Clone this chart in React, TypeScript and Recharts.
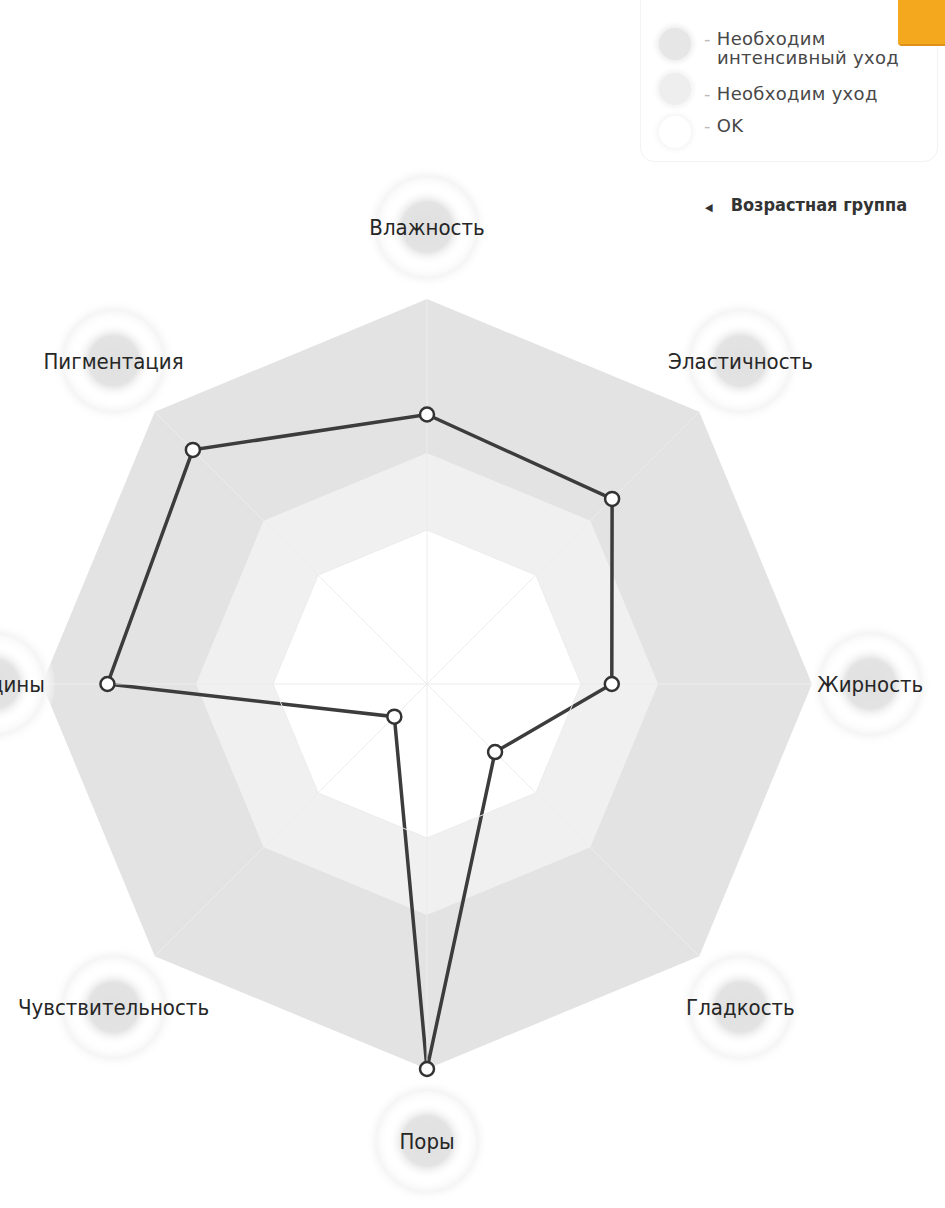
import { RadarChart, Radar, PolarGrid, PolarAngleAxis, PolarRadiusAxis } from 'recharts';

const categories = ['Влажность', 'Эластичность', 'Жирность', 'Гладкость', 'Поры', 'Чувствительность', 'Морщины', 'Пигментация'];
const scores = [70, 68, 48, 25, 100, 12, 83, 86];

// zone borders: intensive care / care / ok
const zoneLevels = [100, 60, 40];
const zoneNames = ['Необходим интенсивный уход', 'Необходим уход', 'OK'];
const ageGroupLabel = 'Возрастная группа';

const data = categories.map((name, i) => ({
  name,
  score: scores[i],
  intensive: zoneLevels[0],
  care: zoneLevels[1],
  ok: zoneLevels[2],
}));

const CX = 427;
const CY = 684;
const R = 385;
const labelFont = "'DejaVu Sans Condensed', 'DejaVu Sans', sans-serif";

function AxisTick(props: any) {
  const { y, payload } = props;
  // labels sit a bit closer sideways than up/down in the scan
  let x = CX + (props.x - CX) * 0.97;
  // the left label runs off the page, keep it where it was
  x = Math.max(x, -6);
  return (
    <g>
      <circle cx={x} cy={y} r={62} fill="url(#tickHalo)" />
      <circle cx={x} cy={y} r={38} fill="url(#tickDisc)" />
      <text x={x} y={y + 8} textAnchor="middle" fontSize={22} fill="#262626" fontFamily={labelFont}>
        {payload.value}
      </text>
    </g>
  );
}

const legendDot = (fill: string, border: string) => ({
  position: 'absolute' as const,
  left: 659,
  width: 32,
  height: 32,
  borderRadius: '50%',
  background: fill,
  boxShadow: `0 0 5px 3px ${border}`,
});

export default function App() {
  return (
    <div style={{ position: 'absolute', left: 0, top: 0, width: 945, height: 1208, background: '#fff', overflow: 'hidden' }}>
      <RadarChart
        width={945}
        height={1208}
        data={data}
        cx={CX}
        cy={CY}
        outerRadius={R}
        startAngle={90}
        endAngle={-270}
        margin={{ top: 0, right: 0, bottom: 0, left: 0 }}
      >
        <defs>
          <radialGradient id="tickDisc">
            <stop offset="0%" stopColor="#e0e0e0" />
            <stop offset="65%" stopColor="#e3e3e3" />
            <stop offset="100%" stopColor="#ffffff" stopOpacity={0} />
          </radialGradient>
          <radialGradient id="tickHalo">
            <stop offset="62%" stopColor="#ffffff" stopOpacity={0} />
            <stop offset="82%" stopColor="#f5f5f5" />
            <stop offset="100%" stopColor="#ffffff" stopOpacity={0} />
          </radialGradient>
        </defs>
        <PolarRadiusAxis domain={[0, 100]} tick={false} axisLine={false} />
        <Radar dataKey="intensive" fill="#e3e3e3" fillOpacity={1} stroke="none" dot={false} isAnimationActive={false} />
        <Radar dataKey="care" fill="#f0f0f0" fillOpacity={1} stroke="none" dot={false} isAnimationActive={false} />
        <Radar dataKey="ok" fill="#ffffff" fillOpacity={1} stroke="none" dot={false} isAnimationActive={false} />
        <PolarGrid gridType="polygon" stroke="#ececec" strokeWidth={1} polarRadius={[R * 0.4]} zIndex={150} />
        <PolarAngleAxis dataKey="name" tick={AxisTick} tickLine={false} axisLine={false} tickSize={72} />
        <Radar
          dataKey="score"
          stroke="#3c3c3c"
          strokeWidth={3.5}
          fill="none"
          fillOpacity={0}
          dot={{ r: 7, fill: '#fff', stroke: '#333', strokeWidth: 2.5, fillOpacity: 1 }}
          isAnimationActive={false}
        />
      </RadarChart>

      {/* legend */}
      <div style={{ position: 'absolute', left: 640, top: -12, width: 296, height: 172, border: '1px solid #f3f3f3', borderRadius: 14 }} />
      <div style={{ ...legendDot('#e6e6e6', '#efefef'), top: 28 }} />
      <div style={{ ...legendDot('#eeeeee', '#f4f4f4'), top: 73 }} />
      <div style={{ ...legendDot('#ffffff', '#f6f6f6'), top: 116 }} />
      <div style={{ position: 'absolute', left: 704, top: 29, fontFamily: "'DejaVu Sans', sans-serif", fontSize: 18, letterSpacing: 0.3, lineHeight: '19px', color: '#484848', width: 230 }}>
        <div>
          <span style={{ color: '#bbb' }}>- </span>
          {zoneNames[0].split(' ')[0]}
          <br />
          <span style={{ paddingLeft: 13 }}>{zoneNames[0].split(' ').slice(1).join(' ')}</span>
        </div>
        <div style={{ marginTop: 17 }}>
          <span style={{ color: '#bbb' }}>- </span>
          {zoneNames[1]}
        </div>
        <div style={{ marginTop: 13 }}>
          <span style={{ color: '#bbb' }}>- </span>
          {zoneNames[2]}
        </div>
      </div>
      <div style={{ position: 'absolute', left: 705, top: 194, fontFamily: labelFont, fontSize: 18, fontWeight: 'bold', color: '#333' }}>
        <span style={{ fontSize: 11, marginRight: 18 }}>◀</span>
        {ageGroupLabel}
      </div>

      {/* scan artefact: orange note in the corner */}
      <div style={{ position: 'absolute', left: 898, top: -6, width: 60, height: 50, background: '#f4a81e', borderRadius: 4, borderBottom: '2px solid #e0901a' }} />
    </div>
  );
}
